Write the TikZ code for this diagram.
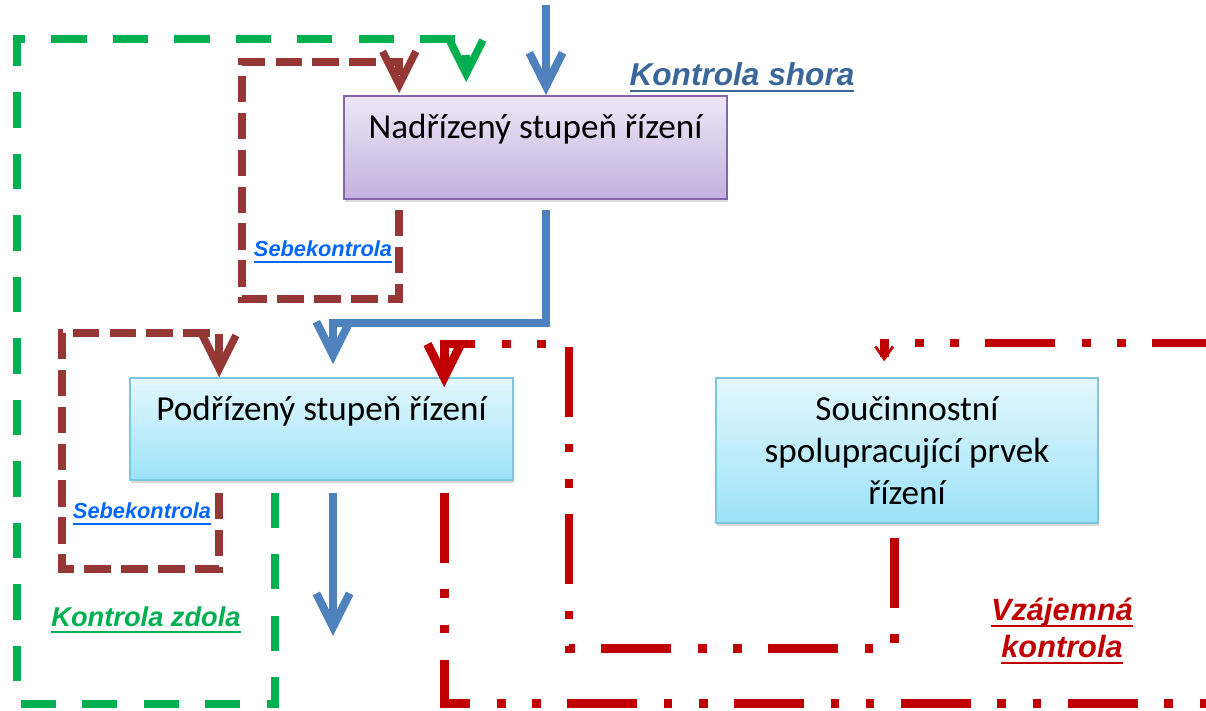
\documentclass[tikz,border=0pt]{standalone}
\usepackage{fontspec}
\usetikzlibrary{arrows.meta,shadows}
\newfontfamily\boxfont{Carlito}
\newfontfamily\labfont{Liberation Sans}
\newcommand{\ulab}[1]{\setbox0=\hbox{#1}\dp0=0pt\vtop{\box0\kern2.6pt\hrule height 1.1pt}}
\newcommand{\boxtop}{\rule{0pt}{21pt}}
\definecolor{flowblue}{HTML}{4F81BD}
\definecolor{ctrlgreen}{HTML}{00B050}
\definecolor{selfbrown}{HTML}{953735}
\definecolor{mutualred}{HTML}{C00000}
\definecolor{linkblue}{HTML}{0066FF}
\definecolor{shorablue}{HTML}{3B6698}
\definecolor{nadtop}{HTML}{EEE7F6}
\definecolor{nadbot}{HTML}{C3B0DF}
\definecolor{nadline}{HTML}{8466A8}
\definecolor{podtop}{HTML}{E3F8FD}
\definecolor{podbot}{HTML}{9CE2F8}
\definecolor{podline}{HTML}{7CC6DD}
\begin{document}
\begin{tikzpicture}
 [x=0.02cm,y=-0.02cm,
  box/.style={rectangle,draw,line width=0.9pt,inner sep=0pt,align=center,
    font=\boxfont\fontsize{20pt}{24pt}\selectfont,minimum width=7.66cm,
    drop shadow={shadow xshift=0.6pt,shadow yshift=-1.6pt,opacity=0.3}},
  nadbox/.style={box,draw=nadline,top color=nadtop,bottom color=nadbot},
  podbox/.style={box,draw=podline,top color=podtop,bottom color=podbot},
  bigtip/.style={-{Straight Barb[length=19pt,width=19pt]}},
  blueflow/.style={flowblue,line width=4.6pt,bigtip},
  greenflow/.style={ctrlgreen,line width=4.4pt,dash pattern=on 20pt off 15pt,bigtip},
  brownflow/.style={selfbrown,line width=4.3pt,dash pattern=on 15pt off 6pt,bigtip},
  redflow/.style={mutualred,line width=5pt,dash pattern=on 40pt off 15pt on 5pt off 15pt on 5pt off 15pt},
  lab/.style n args={3}{text=#1,inner sep=0pt,align=center,
    font=\labfont\bfseries\itshape\fontsize{#2}{#3}\selectfont}]
  \useasboundingbox (0,0) rectangle (1206,710);

  \node[nadbox,minimum height=2.06cm] (nad) at (535.5,147.5) {\boxtop Nadřízený stupeň řízení\\\strut};
  \node[podbox,minimum height=2.04cm] (pod) at (321.5,429) {\boxtop Podřízený stupeň řízení\\\strut};
  \node[podbox,minimum height=2.9cm,minimum width=7.64cm] (souc) at (907,450.5)
    {\boxtop Součinnostní\\\strut spolupracující prvek\\\strut řízení};

  \node[lab={shorablue}{18pt}{21pt}] (lshora) at (742,77) {\ulab{Kontrola shora}};
  \node[lab={ctrlgreen}{15.5pt}{18pt}] (lzdola) at (146,620) {\ulab{Kontrola zdola}};
  \node[lab={linkblue}{12.4pt}{15pt}] (lsebnad) at (323,252) {\ulab{Sebekontrola}};
  \node[lab={linkblue}{12.4pt}{15pt}] (lsebpod) at (142,514) {\ulab{Sebekontrola}};
  \node[lab={mutualred}{17.5pt}{21.5pt}] (lvzaj) at (1062,631) {\ulab{Vzájemná}\\\ulab{kontrola}};

  \coordinate (src) at (546,5);
  \draw[blueflow] (src) -- (src |- nad.north);
  \draw[blueflow,shorten <=2mm] (src |- nad.south) -- ++(0,123) -| ([xshift=2.3mm,yshift=2.6mm]pod.north);
  \draw[blueflow] ([xshift=2.3mm,yshift=-2.4mm]pod.south) -- ++(0,143);

  \draw[greenflow] ([xshift=2.92cm,yshift=-2.4mm]pod.south west) -- ++(0,211) -| (17,39)
    -| ([xshift=2.46cm,yshift=2.6mm]nad.north west);

  \draw[brownflow] ([xshift=1.12cm,yshift=-2mm]nad.south west) -- ++(0,89) -| (242,62)
    -| ([xshift=1.12cm,yshift=0.4mm]nad.north west);
  \draw[brownflow] ([xshift=1.8cm,yshift=-2.4mm]pod.south west) -- ++(0,76) -| (62,333)
    -| ([xshift=1.8cm]pod.north west);

  \draw[redflow,-{Straight Barb[length=7pt,width=10pt,line width=1.6pt]}]
    ([xshift=6.3cm,yshift=-2.4mm]pod.south west) -- ++(0,211) -| (1215,343)
    -| ([xshift=3.38cm,yshift=3.2mm]souc.north west);
  \draw[redflow,bigtip] ([xshift=3.58cm,yshift=-2.8mm]souc.south west) -- ++(0,111) -| (569,344)
    -| ([xshift=6.3cm,yshift=-2mm]pod.north west);
\end{tikzpicture}
\end{document}
